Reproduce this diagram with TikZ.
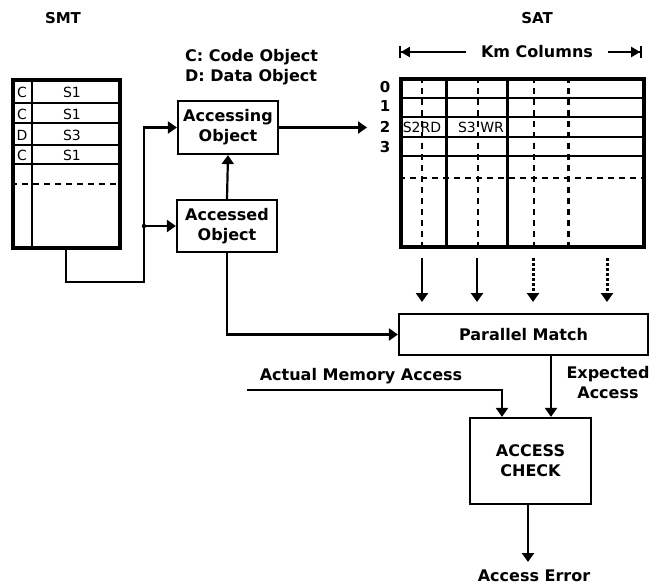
\documentclass[tikz,border=0pt]{standalone}
\usepackage{fontspec}
\setmainfont{DejaVu Sans}
\usetikzlibrary{arrows.meta}
\begin{document}
\begin{tikzpicture}[x=1pt,y=-1pt,
  lbl/.style={font=\fontsize{16}{20}\selectfont\bfseries, inner sep=0pt},
  ttl/.style={font=\fontsize{15}{18}\selectfont\bfseries, inner sep=0pt},
  rowno/.style={font=\fontsize{15}{18}\selectfont\bfseries, inner sep=0pt},
  cell/.style={font=\fontsize{14}{16}\selectfont, inner sep=0pt},
  box/.style={draw, line width=2.2pt, align=center, inner sep=0pt,
    font=\fontsize{16}{20}\selectfont\bfseries},
  table/.style={draw, line width=3.5pt, inner sep=0pt, anchor=north west},
  rule/.style={line width=1.8pt},
  thickrule/.style={line width=3pt},
  dashrule/.style={line width=1.8pt, dash pattern=on 6pt off 5pt},
  arr/.style={line width=2.2pt, -{Triangle[length=9pt,width=12pt]}},
  dotarr/.style={line width=3pt, dash pattern=on 2.5pt off 2.5pt,
    -{Triangle[length=9pt,width=12pt]}},
  dimarr/.style={line width=1.8pt}
]
\useasboundingbox (0,0) rectangle (649,587);

% ---------- segment mapping table ----------
\node[ttl] (smtt) at (63,18) {SMT};
\node[table, minimum width=107pt, minimum height=168pt] (smt) at (11,78) {};
\draw[rule] (32,78) -- (32,246);
\foreach \y in {103,123,145,164} \draw[rule] (11,\y) -- (118,\y);
\draw[dashrule] (11,184) -- (118,184);
\node[cell] (c1) at (22,92) {C};  \node[cell] (s1) at (72,92) {S1};
\node[cell] (c2) at (22,114) {C}; \node[cell] (s2) at (72,114) {S1};
\node[cell] (c3) at (22,135) {D}; \node[cell] (s3) at (72,135) {S3};
\node[cell] (c4) at (22,155) {C}; \node[cell] (s4) at (72,155) {S1};

% ---------- legend ----------
\node[lbl, anchor=west] (leg1) at (185,57) {C: Code Object};
\node[lbl, anchor=west] (leg2) at (185,77) {D: Data Object};

% ---------- object boxes ----------
\node[box, minimum width=100pt, minimum height=53pt] (aing) at (228,127.5) {Accessing\\Object};
\node[box, minimum width=100pt, minimum height=52pt] (aed) at (227,226) {Accessed\\Object};

% ---------- segment access table ----------
\node[ttl] (satt) at (537,18) {SAT};
\node[lbl, inner xsep=15pt] (km) at (537,52) {Km Columns};
\coordinate (kmL) at (399,52);
\coordinate (kmR) at (642,52);
\draw[dimarr, {Bar[width=12pt]Triangle[length=9pt,width=10pt]}-] (kmL) -- (km.west);
\draw[dimarr, -{Triangle[length=9pt,width=10pt]Bar[width=12pt]}] (km.east) -- (kmR);

\node[table, minimum width=243pt, minimum height=168pt] (sat) at (399,77) {};
\foreach \y in {98,117,137,156} \draw[rule] (399,\y) -- (642,\y);
\draw[dashrule] (399,178) -- (642,178);
\foreach \x in {446,507} \draw[thickrule] (\x,77) -- (\x,245);
\foreach \x in {422,478,534} \draw[dashrule] (\x,77) -- (\x,245);
\draw[thickrule, dash pattern=on 6pt off 5pt] (568,77) -- (568,245);

\node[rowno] (r0) at (385,87) {0};
\node[rowno] (r1) at (385,106) {1};
\node[rowno] (r2) at (385,127) {2};
\node[rowno] (r3) at (385,147) {3};
\node[cell] (e1) at (422,127) {S2RD};
\node[cell] (e2) at (481,127) {S3 WR};

% ---------- matching and checking ----------
\node[box, minimum width=249pt, minimum height=41pt] (pm) at (523.5,334.5) {Parallel Match};
\node[box, minimum width=121pt, minimum height=86pt] (chk) at (530.5,461) {ACCESS\\CHECK};

\node[lbl] (ama) at (361,376) {Actual Memory Access};
\node[lbl, align=center] (exp) at (608,383) {Expected\\Access};
\node[lbl] (err) at (534,576) {Access Error};

% ---------- connectors ----------
\coordinate (bus) at (144,282);
\draw[arr] (smt.south) |- (bus) |- (aing.west);
\fill (bus |- aed.west) circle (2.2pt);
\draw[arr] (bus |- aed.west) -- (aed.west);
\draw[arr] (aed.north) -- (aing.south);
\coordinate (satin) at (367,127.5);
\draw[arr] (aing.east) -- (satin);
\draw[arr] (aed.south) |- (pm.west);

\foreach \x/\s in {422/arr,477/arr,533/dotarr,607/dotarr}{
  \coordinate (top\x) at (\x,258);
  \coordinate (bot\x) at (\x,302);
  \draw[\s] (top\x) -- (bot\x);
}

\coordinate (expx) at (551,0);
\draw[arr] (pm.south -| expx) -- (chk.north -| expx);
\coordinate (amaS) at (247,390);
\coordinate (amaX) at (502,0);
\draw[arr] (amaS) -| (chk.north -| amaX);
\coordinate (errTip) at (528,562);
\draw[arr] (chk.south -| errTip) -- (errTip);
\end{tikzpicture}
\end{document}
